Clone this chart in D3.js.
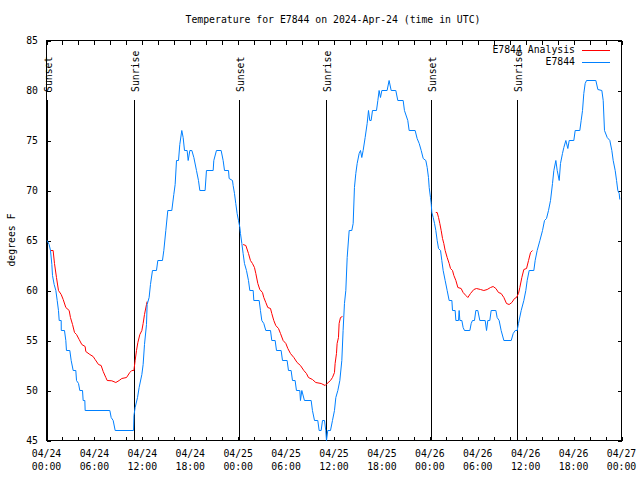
<!DOCTYPE html>
<html><head><meta charset="utf-8">
<script src="https://cdn.jsdelivr.net/npm/d3@7"></script>
<style>
html,body{margin:0;padding:0;background:#fff;}
svg{display:block;}
text{font-family:"DejaVu Sans Mono","Liberation Mono",monospace;font-size:9.8px;fill:#000;}
</style></head><body>
<script>
// ---- data (hours since 04/24 00:00 UTC) ----
const titleText = "Temperature for E7844 on 2024-Apr-24 (time in UTC)";
const yLabelText = "degrees F";
const seriesNames = ["E7844 Analysis", "E7844"];
const seriesColors = ["#ff0000", "#0080ff"];
const xTickHours = [0, 6, 12, 18, 24, 30, 36, 42, 48, 54, 60, 66, 72];
const xTickLabels = ["04/24\n00:00","04/24\n06:00","04/24\n12:00","04/24\n18:00","04/25\n00:00","04/25\n06:00","04/25\n12:00","04/25\n18:00","04/26\n00:00","04/26\n06:00","04/26\n12:00","04/26\n18:00","04/27\n00:00"];
const yTicks = [45, 50, 55, 60, 65, 70, 75, 80, 85];
const sunsetHours = [0.16, 24.17, 48.21];
const sunriseHours = [11.06, 35.02, 59.01];

const obsHours = [0.08,0.33,0.5,0.67,0.75,0.96,1.17,1.34,1.5,1.59,1.84,1.85,2.25,2.42,2.5,2.92,3.09,3.34,3.67,3.76,4.01,4.17,4.51,4.59,4.8,4.84,7.93,8.1,8.35,8.6,10.9,10.95,11.1,11.4,11.6,11.94,12.1,12.27,12.52,12.6,12.85,13.02,13.27,13.77,13.94,14.52,14.69,14.94,15.19,15.69,15.94,16.11,16.28,16.53,16.69,16.94,17.11,17.28,17.61,17.74,17.95,18.2,18.45,18.78,19.03,19.2,19.86,20.03,20.87,20.95,21.28,21.87,22.12,22.29,22.79,22.87,23.29,23.37,23.54,23.7,23.87,24.04,24.21,24.29,24.46,24.62,24.79,25.04,25.29,25.46,25.88,25.96,26.63,26.79,26.96,27.21,27.46,28.05,28.21,28.63,28.8,29.38,29.55,30.13,30.3,30.63,30.8,31.13,31.3,31.72,31.8,31.97,32.3,33.14,33.3,33.56,33.97,34.14,34.39,34.56,34.81,34.97,35.06,35.22,35.56,35.81,36.06,36.23,36.48,36.73,36.98,37.14,37.31,37.48,37.65,37.9,38.23,38.4,38.56,38.73,38.9,39.15,39.32,39.48,39.65,39.9,40.15,40.32,40.48,40.65,40.82,41.32,41.49,41.65,41.82,41.99,42.65,42.9,43.16,43.74,43.99,44.66,44.82,45.24,45.41,46.16,46.41,46.67,46.92,47.17,47.5,47.67,47.83,47.92,48.08,48.17,48.25,48.42,48.59,48.75,48.92,49.09,49.34,49.5,49.67,49.92,50.17,50.42,50.76,50.84,51.17,51.26,51.59,51.67,51.76,52.01,52.17,52.34,53.01,53.18,53.34,53.59,53.76,54.01,54.26,54.93,55.1,55.26,55.51,55.68,56.27,56.43,56.68,56.93,57.27,58.19,58.44,58.69,58.94,59.1,59.44,59.77,60.02,60.19,60.44,61.02,61.19,61.44,61.78,62.11,62.36,62.61,62.86,63.11,63.36,63.53,63.78,63.95,64.2,64.36,64.61,64.78,65.03,65.28,65.45,66.03,66.2,66.78,66.95,67.12,67.28,67.45,67.62,68.79,69.04,69.54,69.71,69.87,70.21,70.54,70.79,70.96,71.21,71.38,71.54,71.71,71.79];
const obsTemps = [65,64.6,64,62.6,61.5,60.6,60,59,58,57,57,56,56,55,54,54,53,52,52,51,50.7,50,50,49,49,48,48,47.3,47,46,46,47.5,48.3,49.3,50.3,51.6,52.6,54.6,56.6,58.6,59.3,60.6,62,62,63,63,64,66,68,68,69.6,70.6,73,73,74.6,76,75.3,74,74,73,74,74,73.3,72,71,70,70,72,72,73,74,74,73,72,72,71.2,71,70.5,69.7,68.7,67.7,67,66.3,65.7,64.7,63.7,62.7,62,61,60,60,59,59,58,57,56.7,56,56,55,55,54,54,53,53,52,52,51,51,50,50,49,50,49,49,48,47,47,46,46,47,47,46,45,46,46,47,48,49.3,50,51,53,56,58.7,60,63.3,66,66,66.7,70.3,71.7,72.7,73.7,74,73.3,74,75.3,76.7,78,77,77,78,78,79,80,79.3,80,80,81,80,80,79,79,78,77,76,76,75.2,74.7,74,73.2,73,72.3,71.3,70.3,69.3,68.7,67.8,67.3,66.7,66,65,64.2,64,63,62,61,60,59,59,58,58,57,57,58,57,57,56.3,56,56,56.7,57,57,58,58,57,57,56,57,57,58,58,57.3,57,56,55,55,55.7,56,56,56.7,58,59,60,61,62,62,63,64,65,66,67,67.2,68,69,70.7,72,73,72,71,72.7,73.7,74.3,75,74.2,75,75,76,76,77,78,79.7,80.7,81,81,80.1,80,79,76,75.3,75,74,73,72,71,70,69.7,69.1];

// analysis: null separates the three nightly segments
const anaHours = [0.5,0.83,1.0,1.25,1.5,1.84,2.09,2.42,2.84,3.0,3.26,3.51,3.76,4.09,4.42,4.84,4.92,5.43,5.84,6.09,6.51,6.84,7.1,7.43,7.6,8.18,8.68,9.1,9.43,10.02,10.43,10.68,10.94,11.1,11.27,11.44,11.69,11.94,12.1,12.27,12.52,12.6,
 null,
 24.62,24.96,25.29,25.54,25.79,26.04,26.21,26.46,26.71,27.04,27.21,27.46,27.71,28.05,28.21,28.46,28.71,29.05,29.3,29.63,29.97,30.22,30.55,30.97,31.38,31.8,32.22,32.55,32.8,33.3,33.72,34.39,34.89,35.14,35.56,35.81,36.06,36.14,36.31,36.39,36.56,36.64,36.81,37.06,
 null,
 48.75,48.92,49.09,49.25,49.42,49.59,49.75,49.92,50.17,50.42,50.59,50.84,51.01,51.26,51.51,51.92,52.17,52.51,52.76,53.09,53.51,53.84,54.35,54.76,55.18,55.6,55.93,56.27,56.6,56.93,57.27,57.6,57.93,58.27,58.6,58.85,59.1,59.27,59.52,59.77,60.11,60.36,60.61,60.86];
const anaTemps = [64,64,62.7,61.3,60,59.6,59.1,58.3,58,57.3,56.6,55.8,55.6,55.1,54.6,54.4,53.9,53.6,53.4,53.1,52.6,52.5,51.9,51.3,51,50.97,50.8,51,51.2,51.3,51.8,52,52,53,54,54.8,55.6,56,56.7,57.6,58.6,58.9,
 null,
 64.6,64.5,63.7,63,62.7,62.3,61.7,60.7,60.1,59.8,59.3,58.8,58.3,58.2,57.7,57,56.5,56.2,55.7,55,54.7,54.2,53.7,53.3,52.8,52.5,52,51.7,51.3,51.1,50.8,50.7,50.5,50.7,51,51.3,51.8,52.7,53.7,54.7,55.3,56.7,57.3,57.4,
 null,
 67.8,67.8,67.3,66.7,66,65.2,64.7,64,63.3,62.7,62.2,62,61.5,61,60.3,60.2,59.8,59.5,59.3,59.7,60.1,60.2,60.1,60,60.1,60.3,60.4,60.2,59.8,59.7,59.3,58.7,58.6,58.8,59.2,59.3,59.7,60.3,61.3,62.1,62.2,63,63.8,64];

// ---- drawing ----
const W = 640, H = 480;
const svg = d3.select("body").append("svg").attr("width", W).attr("height", H)
  .attr("shape-rendering", "crispEdges");
const x = d3.scaleLinear().domain([0, 72]).range([46.5, 621.5]);
const y = d3.scaleLinear().domain([45, 85]).range([440.5, 40.5]);

// border
svg.append("rect").attr("x", x(0)).attr("y", y(85)).attr("width", x(72) - x(0)).attr("height", y(45) - y(85))
  .attr("fill", "none").attr("stroke", "#000");

// axes with inward ticks (mirrored)
const minorHours = d3.range(0, 73, 2);
const gxB = svg.append("g").attr("transform", `translate(0,${y(45)})`)
  .call(d3.axisTop(x).tickValues(minorHours).tickSize(4).tickFormat(""));
const gxT = svg.append("g").attr("transform", `translate(0,${y(85)})`)
  .call(d3.axisBottom(x).tickValues(minorHours).tickSize(4).tickFormat(""));
const gyL = svg.append("g").attr("transform", `translate(${x(0)},0)`)
  .call(d3.axisRight(y).tickValues(yTicks).tickSize(4).tickFormat(""));
const gyR = svg.append("g").attr("transform", `translate(${x(72)},0)`)
  .call(d3.axisLeft(y).tickValues(yTicks).tickSize(4).tickFormat(""));
[gxB, gxT, gyL, gyR].forEach(g => { g.select(".domain").remove(); g.selectAll("line").attr("stroke", "#000"); });

// y tick labels
svg.append("g").selectAll("text").data(yTicks).join("text")
  .attr("x", 38).attr("y", d => y(d)).attr("dy", "0.35em").attr("text-anchor", "end").text(d => d);

// x tick labels (two lines)
const xl = svg.append("g").selectAll("text").data(xTickHours).join("text")
  .attr("text-anchor", "middle").attr("x", d => x(d));
xl.each(function(d, i) {
  const parts = xTickLabels[i].split("\n");
  const t = d3.select(this);
  parts.forEach((p, k) => t.append("tspan").attr("x", x(d)).attr("y", 454 + k * 13).attr("dy", "0.35em").text(p));
});

// title & y label
svg.append("text").attr("x", 333).attr("y", 20).attr("dy", "0.35em").attr("text-anchor", "middle").text(titleText);
svg.append("text").attr("transform", `translate(12,240) rotate(-90)`).attr("dy", "0.35em")
  .attr("text-anchor", "middle").text(yLabelText);

// sun lines
const sunEvents = sunsetHours.map(h => ({h, label: "Sunset"})).concat(sunriseHours.map(h => ({h, label: "Sunrise"})));
const sg = svg.append("g");
sunEvents.forEach(e => {
  const px = Math.round(x(e.h) - 0.5) + 0.5;
  sg.append("line").attr("x1", px).attr("x2", px).attr("y1", 99.5).attr("y2", y(45)).attr("stroke", "#000");
  sg.append("text").attr("transform", `translate(${px + 4.5},92) rotate(-90)`).attr("text-anchor", "start").text(e.label);
});

// series
const obsData = obsHours.map((h, i) => [h, obsTemps[i]]);
const anaData = anaHours.map((h, i) => [h, anaTemps[i]]);
const line = d3.line().defined(d => d[0] != null && d[1] != null).x(d => x(d[0])).y(d => y(d[1]));
const lg = svg.append("g").attr("shape-rendering", "auto");
lg.append("path").datum(anaData).attr("d", line).attr("fill", "none").attr("stroke", seriesColors[0]).attr("stroke-width", 1);
lg.append("path").datum(obsData).attr("d", line).attr("fill", "none").attr("stroke", seriesColors[1]).attr("stroke-width", 1);

// legend
seriesNames.forEach((n, i) => {
  const ly = 49.5 + i * 12.5;
  svg.append("text").attr("x", 575).attr("y", ly).attr("dy", "0.35em").attr("text-anchor", "end").text(n);
  svg.append("line").attr("x1", 582).attr("x2", 610).attr("y1", Math.round(ly) + 0.5).attr("y2", Math.round(ly) + 0.5)
    .attr("stroke", seriesColors[i]);
});
</script>
</body></html>
